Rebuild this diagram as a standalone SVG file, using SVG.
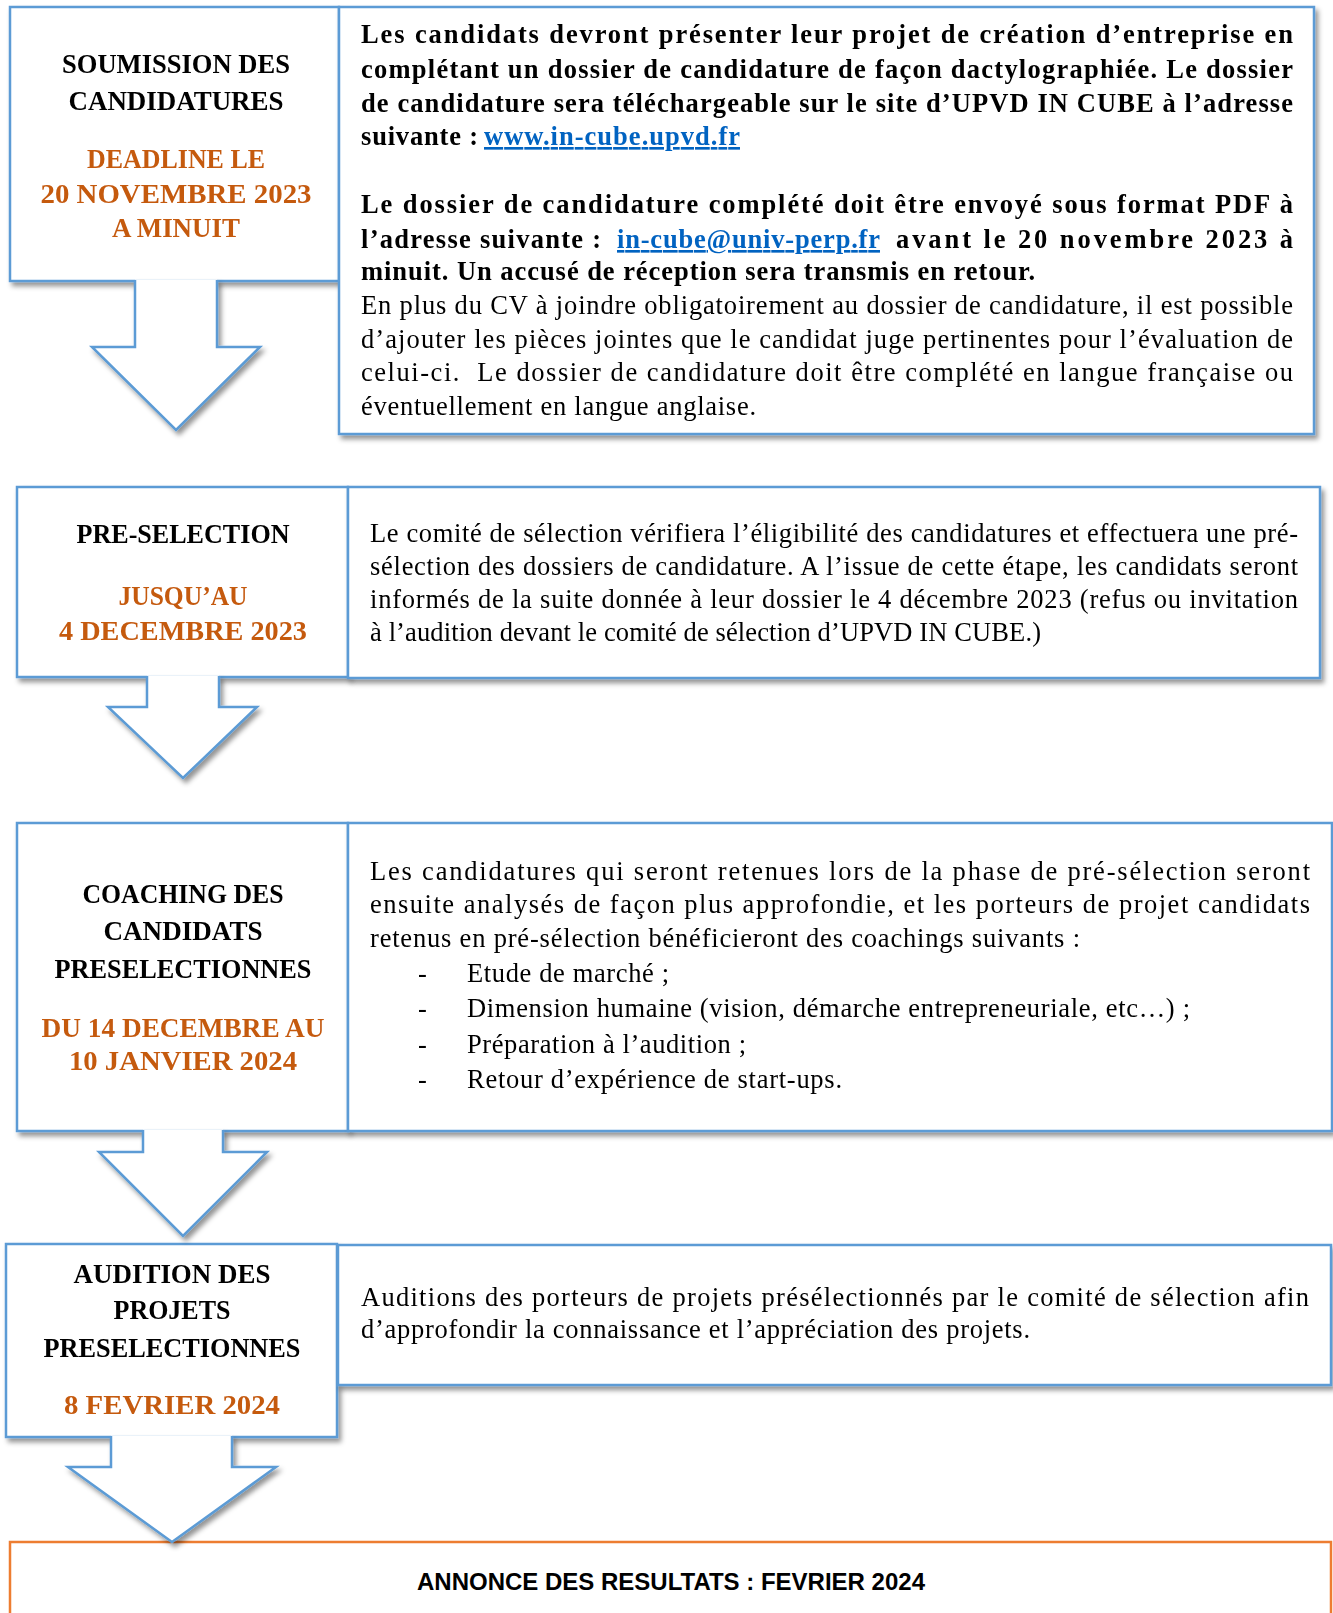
<svg xmlns="http://www.w3.org/2000/svg" width="1333" height="1613" viewBox="0 0 1333 1613">
<defs>
<filter id="sh" x="-10%" y="-10%" width="125%" height="130%">
<feDropShadow dx="3" dy="4" stdDeviation="2.5" flood-color="#000" flood-opacity="0.42"/>
</filter>
</defs>
<style>
.box{fill:#fff;stroke:#5B9BD5;stroke-width:2.5}
.afill{fill:#fff;stroke:none}
.aline{fill:none;stroke:#5B9BD5;stroke-width:2.5;stroke-linejoin:miter}
.obox{fill:#fff;stroke:#ED7D31;stroke-width:2.5}
.t{font-family:"Liberation Serif","Times New Roman",serif;font-weight:bold;font-size:28px;fill:#000;text-anchor:middle}
.o{fill:#C55A11}
.b{font-family:"Liberation Serif","Times New Roman",serif;font-size:26.5px;fill:#000}
.bb{font-weight:bold}
.lnk{fill:#0563C1;text-decoration:underline}
.r{font-family:"Liberation Sans",Arial,sans-serif;font-weight:bold;font-size:23.5px;fill:#000;text-anchor:middle}
</style>

<g id="node-soumission" filter="url(#sh)">
<rect class="box" x="10" y="7" width="329" height="274"/>
<text class="t" x="176" y="73" textLength="228" lengthAdjust="spacingAndGlyphs">SOUMISSION DES</text>
<text class="t" x="176" y="110" textLength="215" lengthAdjust="spacingAndGlyphs">CANDIDATURES</text>
<text class="t o" x="176" y="168" textLength="178" lengthAdjust="spacingAndGlyphs">DEADLINE LE</text>
<text class="t o" x="176" y="203" textLength="271" lengthAdjust="spacingAndGlyphs">20 NOVEMBRE 2023</text>
<text class="t o" x="176" y="237" textLength="128" lengthAdjust="spacingAndGlyphs">A MINUIT</text>
</g>
<g id="node-soumission-detail" filter="url(#sh)">
<rect class="box" x="339" y="7" width="975" height="427"/>
<text class="b bb" x="361" y="43" textLength="932" lengthAdjust="spacing">Les candidats devront présenter leur projet de création d’entreprise en</text>
<text class="b bb" x="361" y="78" textLength="932" lengthAdjust="spacing">complétant un dossier de candidature de façon dactylographiée. Le dossier</text>
<text class="b bb" x="361" y="112" textLength="932" lengthAdjust="spacing">de candidature sera téléchargeable sur le site d’UPVD IN CUBE à l’adresse</text>
<text class="b bb" x="361" y="145" textLength="117" lengthAdjust="spacing">suivante :</text>
<text class="b bb lnk" x="484" y="145" textLength="256" lengthAdjust="spacing">www.in-cube.upvd.fr</text>
<text class="b bb" x="361" y="213" textLength="932" lengthAdjust="spacing">Le dossier de candidature complété doit être envoyé sous format PDF à</text>
<text class="b bb" x="361" y="248" textLength="240" lengthAdjust="spacing">l’adresse suivante :</text>
<text class="b bb lnk" x="617" y="248" textLength="263" lengthAdjust="spacing">in-cube@univ-perp.fr</text>
<text class="b bb" x="896" y="248" textLength="397" lengthAdjust="spacing">avant le 20 novembre 2023 à</text>
<text class="b bb" x="361" y="280" textLength="674" lengthAdjust="spacing">minuit. Un accusé de réception sera transmis en retour.</text>
<text class="b" x="361" y="314" textLength="932" lengthAdjust="spacing">En plus du CV à joindre obligatoirement au dossier de candidature, il est possible</text>
<text class="b" x="361" y="348" textLength="932" lengthAdjust="spacing">d’ajouter les pièces jointes que le candidat juge pertinentes pour l’évaluation de</text>
<text class="b" x="361" y="381" textLength="932" lengthAdjust="spacing">celui-ci.&#160; Le dossier de candidature doit être complété en langue française ou</text>
<text class="b" x="361" y="415" textLength="395" lengthAdjust="spacing">éventuellement en langue anglaise.</text>
</g>

<g id="node-preselection" filter="url(#sh)">
<rect class="box" x="17" y="487" width="331" height="190"/>
<text class="t" x="183" y="543" textLength="213" lengthAdjust="spacingAndGlyphs">PRE-SELECTION</text>
<text class="t o" x="183" y="605" textLength="129" lengthAdjust="spacingAndGlyphs">JUSQU’AU</text>
<text class="t o" x="183" y="640" textLength="248" lengthAdjust="spacingAndGlyphs">4 DECEMBRE 2023</text>
</g>
<g id="node-preselection-detail" filter="url(#sh)">
<rect class="box" x="348" y="487" width="972" height="191"/>
<text class="b" x="370" y="542" textLength="928" lengthAdjust="spacing">Le comité de sélection vérifiera l’éligibilité des candidatures et effectuera une pré-</text>
<text class="b" x="370" y="575" textLength="928" lengthAdjust="spacing">sélection des dossiers de candidature. A l’issue de cette étape, les candidats seront</text>
<text class="b" x="370" y="608" textLength="928" lengthAdjust="spacing">informés de la suite donnée à leur dossier le 4 décembre 2023 (refus ou invitation</text>
<text class="b" x="370" y="641" textLength="671" lengthAdjust="spacing">à l’audition devant le comité de sélection d’UPVD IN CUBE.)</text>
</g>

<g id="node-coaching" filter="url(#sh)">
<rect class="box" x="17" y="823" width="331" height="308"/>
<text class="t" x="183" y="903" textLength="201" lengthAdjust="spacingAndGlyphs">COACHING DES</text>
<text class="t" x="183" y="940" textLength="159" lengthAdjust="spacingAndGlyphs">CANDIDATS</text>
<text class="t" x="183" y="978" textLength="257" lengthAdjust="spacingAndGlyphs">PRESELECTIONNES</text>
<text class="t o" x="183" y="1037" textLength="283" lengthAdjust="spacingAndGlyphs">DU 14 DECEMBRE AU</text>
<text class="t o" x="183" y="1070" textLength="228" lengthAdjust="spacingAndGlyphs">10 JANVIER 2024</text>
</g>
<g id="node-coaching-detail" filter="url(#sh)">
<rect class="box" x="348" y="823" width="984" height="308"/>
<text class="b" x="370" y="880" textLength="940" lengthAdjust="spacing">Les candidatures qui seront retenues lors de la phase de pré-sélection seront</text>
<text class="b" x="370" y="913" textLength="940" lengthAdjust="spacing">ensuite analysés de façon plus approfondie, et les porteurs de projet candidats</text>
<text class="b" x="370" y="947" textLength="710" lengthAdjust="spacing">retenus en pré-sélection bénéficieront des coachings suivants :</text>
<text class="b" x="418" y="982">-</text>
<text class="b" x="467" y="982" textLength="202" lengthAdjust="spacing">Etude de marché ;</text>
<text class="b" x="418" y="1017">-</text>
<text class="b" x="467" y="1017" textLength="723" lengthAdjust="spacing">Dimension humaine (vision, démarche entrepreneuriale, etc…) ;</text>
<text class="b" x="418" y="1053">-</text>
<text class="b" x="467" y="1053" textLength="279" lengthAdjust="spacing">Préparation à l’audition ;</text>
<text class="b" x="418" y="1088">-</text>
<text class="b" x="467" y="1088" textLength="375" lengthAdjust="spacing">Retour d’expérience de start-ups.</text>
</g>

<g id="node-audition" filter="url(#sh)">
<rect class="box" x="6" y="1244" width="331" height="193"/>
<text class="t" x="172" y="1283" textLength="197" lengthAdjust="spacingAndGlyphs">AUDITION DES</text>
<text class="t" x="172" y="1319" textLength="117" lengthAdjust="spacingAndGlyphs">PROJETS</text>
<text class="t" x="172" y="1357" textLength="257" lengthAdjust="spacingAndGlyphs">PRESELECTIONNES</text>
<text class="t o" x="172" y="1414" textLength="216" lengthAdjust="spacingAndGlyphs">8 FEVRIER 2024</text>
</g>
<g id="node-audition-detail" filter="url(#sh)">
<rect class="box" x="338" y="1245" width="993" height="140"/>
<text class="b" x="361" y="1306" textLength="948" lengthAdjust="spacing">Auditions des porteurs de projets présélectionnés par le comité de sélection afin</text>
<text class="b" x="361" y="1338" textLength="669" lengthAdjust="spacing">d’approfondir la connaissance et l’appréciation des projets.</text>
</g>

<g id="node-resultats">
<rect class="obox" x="10" y="1542" width="1321" height="100"/>
<text class="r" x="671" y="1590" textLength="508" lengthAdjust="spacingAndGlyphs">ANNONCE DES RESULTATS : FEVRIER 2024</text>
</g>

<g id="connectors">
<g filter="url(#sh)">
<path class="afill" d="M135,279.5 V347 H92 L176,430 L260,347 H217 V279.5 Z"/>
<path class="aline" d="M135,280 V347 H92 L176,430 L260,347 H217 V280"/>
</g>
<g filter="url(#sh)">
<path class="afill" d="M147,675.5 V707 H108 L183,778 L257,707 H219 V675.5 Z"/>
<path class="aline" d="M147,676 V707 H108 L183,778 L257,707 H219 V676"/>
</g>
<g filter="url(#sh)">
<path class="afill" d="M143,1129.5 V1152 H99 L183,1236 L267,1152 H223 V1129.5 Z"/>
<path class="aline" d="M143,1130 V1152 H99 L183,1236 L267,1152 H223 V1130"/>
</g>
<g filter="url(#sh)">
<path class="afill" d="M111,1435.5 V1467 H68 L172,1542 L276,1467 H232 V1435.5 Z"/>
<path class="aline" d="M111,1436 V1467 H68 L172,1542 L276,1467 H232 V1436"/>
</g>
</g>
</svg>
